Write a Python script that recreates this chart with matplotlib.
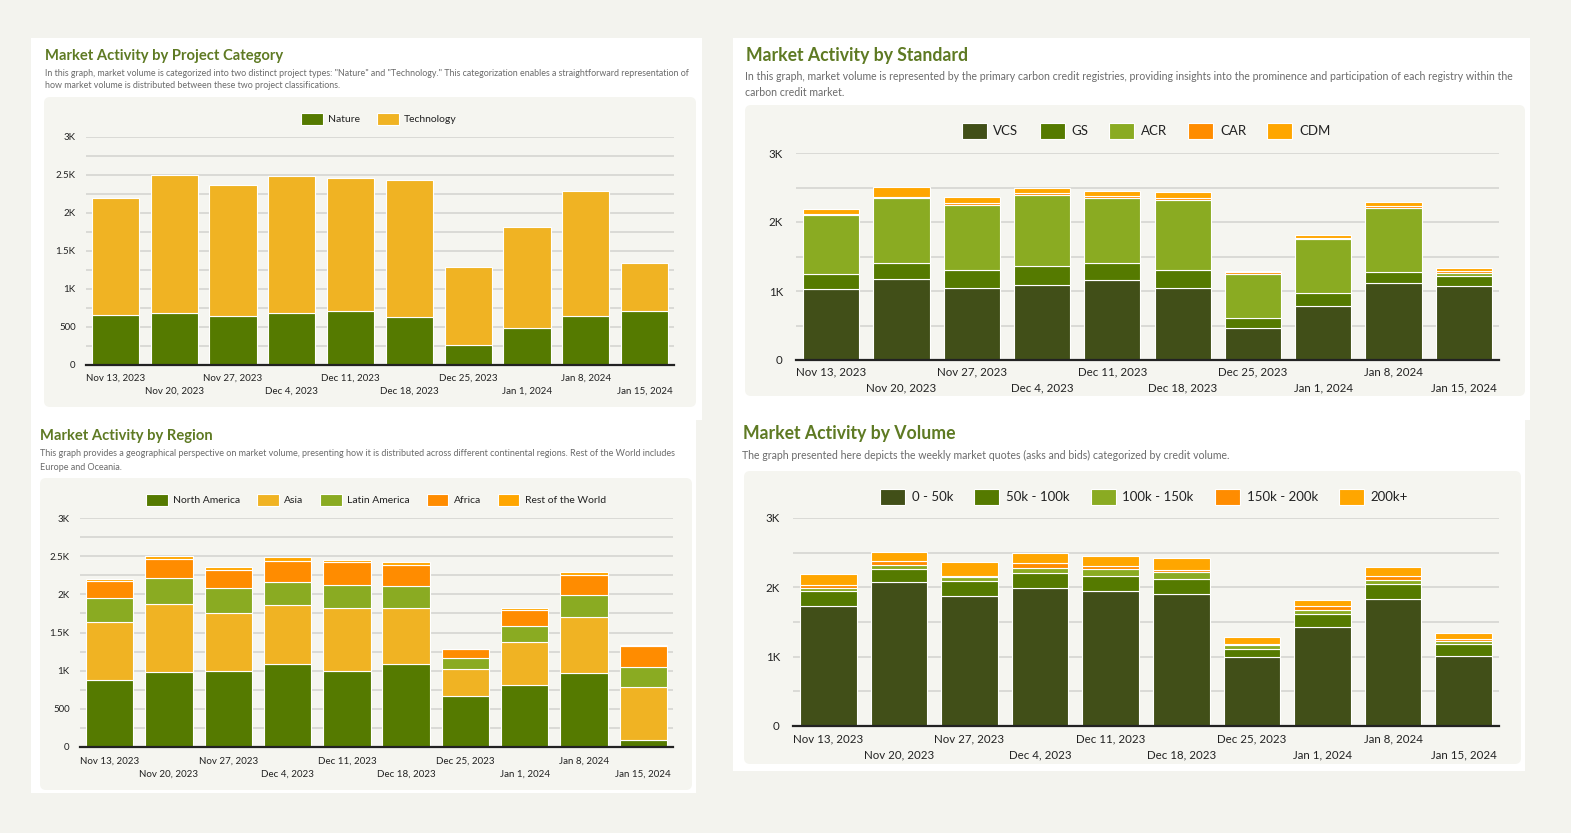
import matplotlib
matplotlib.use("Agg")
import matplotlib.pyplot as plt
from matplotlib.patches import FancyBboxPatch
from matplotlib.ticker import MultipleLocator
import numpy as np

plt.rcParams['font.family'] = ['Lato', 'DejaVu Sans']

W, H = 1571, 833

weeks = ["Nov 13, 2023", "Nov 20, 2023", "Nov 27, 2023", "Dec 4, 2023", "Dec 11, 2023",
         "Dec 18, 2023", "Dec 25, 2023", "Jan 1, 2024", "Jan 8, 2024", "Jan 15, 2024"]

# Panel 1: project category
nature = [660, 686, 651, 678, 713, 638, 262, 490, 647, 713]
technology = [1535, 1819, 1711, 1812, 1742, 1790, 1026, 1328, 1641, 627]

# Panel 2: standard
vcs = [1026, 1180, 1045, 1093, 1160, 1045, 467, 785, 1112, 1074]
gs = [226, 231, 255, 274, 251, 255, 135, 188, 169, 139]
acr = [847, 934, 948, 1031, 943, 1021, 645, 775, 924, 53]
car = [20, 20, 25, 25, 20, 30, 30, 25, 25, 20]
cdm = [76, 140, 89, 67, 81, 77, 11, 45, 58, 54]

# Panel 3: region
north_america = [883, 987, 1000, 1083, 1000, 1083, 674, 817, 970, 96]
asia = [752, 891, 761, 778, 826, 743, 343, 553, 739, 687]
latin_america = [317, 335, 326, 300, 296, 283, 144, 221, 282, 260]
africa = [226, 252, 235, 278, 304, 278, 119, 209, 261, 274]
rest_of_world = [17, 40, 40, 51, 29, 41, 8, 18, 36, 23]

# Panel 4: volume
vol_0_50 = [1733, 2074, 1872, 1987, 1944, 1911, 989, 1426, 1829, 1013]
vol_50_100 = [211, 197, 221, 221, 226, 211, 120, 192, 216, 168]
vol_100_150 = [48, 57, 57, 77, 101, 105, 62, 62, 58, 38]
vol_150_200 = [40, 45, 15, 60, 35, 30, 10, 50, 55, 40]
vol_200_plus = [163, 132, 197, 145, 149, 171, 107, 88, 130, 81]

C_DARK = "#414f18"
C_NAT = "#557a00"
C_LIGHT = "#8aab22"
C_GOLD = "#f0b323"
C_DORANGE = "#ff8c00"
C_ORANGE = "#ffa600"

BG = "#f3f3ee"
INNER = "#f5f5f0"
TITLE_C = "#5e7a23"
DESC_C = "#6b6b6b"

fig = plt.figure(figsize=(W / 100, H / 100), dpi=100)
fig.patch.set_facecolor(BG)


def rect_px(x0, y0, x1, y1, color, rounding=0.0, z=-5):
    p = FancyBboxPatch((x0 / 100, (H - y1) / 100), (x1 - x0) / 100, (y1 - y0) / 100,
                       boxstyle=f"round,pad=0,rounding_size={rounding}",
                       transform=fig.dpi_scale_trans, facecolor=color, edgecolor="none",
                       zorder=z)
    fig.patches.append(p)


def txt(x, y, s, **kw):
    fig.text(x / W, 1 - y / H, s, **kw)


def fmt(v):
    if v == 0:
        return "0"
    if v >= 1000:
        return f"{v / 1000:g}K"
    return f"{v:g}"


def panel(card, inner, plot, title, title_xy, title_fs, desc, desc_xy, desc_fs, desc_ls,
          series, labels, colors, legend_xy, legend_fs, tick_fs, major, minor, xpad,
          row_gap, ypad, handle_len):
    rect_px(*card, "white", z=-6)
    rect_px(*inner, INNER, rounding=0.06, z=-5)
    txt(title_xy[0], title_xy[1], title, fontsize=title_fs, fontweight="bold",
        color=TITLE_C, va="center", ha="left")
    for i, line in enumerate(desc):
        txt(desc_xy[0], desc_xy[1] + i * desc_ls, line, fontsize=desc_fs, color=DESC_C,
            va="center", ha="left")
    x0, y0, x1, y1 = plot
    ax = fig.add_axes([x0 / W, 1 - y1 / H, (x1 - x0) / W, (y1 - y0) / H])
    ax.set_facecolor("none")
    x = np.arange(len(weeks))
    bottom = np.zeros(len(weeks))
    handles = []
    for vals, lab, col in zip(series, labels, colors):
        b = ax.bar(x, vals, width=0.8, bottom=bottom, color=col, edgecolor="white",
                   linewidth=0.8, label=lab, zorder=3)
        handles.append(b)
        bottom += np.array(vals)
    ax.set_xlim(-0.5, len(weeks) - 0.5)
    ax.set_ylim(0, 3000)
    ax.yaxis.set_minor_locator(MultipleLocator(minor))
    ticks = np.arange(0, 3001, major)
    ax.set_yticks(ticks)
    ax.set_yticklabels([fmt(t) for t in ticks], fontsize=tick_fs, color="#222222")
    ax.grid(axis="y", which="both", color="#d8d8d4", linewidth=1.3, zorder=0)
    ax.set_axisbelow(True)
    for s in ["top", "right", "left"]:
        ax.spines[s].set_visible(False)
    ax.spines["bottom"].set_color("#222222")
    ax.spines["bottom"].set_linewidth(1.6)
    ax.spines["bottom"].set_zorder(5)
    ax.tick_params(axis="y", which="both", length=0, pad=ypad)
    ax.set_xticks(x)
    ax.set_xticklabels(weeks, fontsize=tick_fs, color="#222222")
    ax.tick_params(axis="x", length=0)
    for i, t in enumerate(ax.xaxis.get_major_ticks()):
        t.set_pad(xpad if i % 2 == 0 else xpad + row_gap)
    leg = fig.legend(handles=handles, labels=labels, loc="center",
                     bbox_to_anchor=(legend_xy[0] / W, 1 - legend_xy[1] / H),
                     ncol=len(labels), frameon=False, fontsize=legend_fs,
                     handlelength=handle_len, handleheight=1.5, handletextpad=0.5,
                     columnspacing=1.6)
    for t in leg.get_texts():
        t.set_color("#222222")
    return ax


panel(card=(31, 38, 702, 420), inner=(44, 97, 696, 407), plot=(86, 137, 674, 365),
      title="Market Activity by Project Category", title_xy=(45, 56), title_fs=10.6,
      desc=["In this graph, market volume is categorized into two distinct project types: \"Nature\" and \"Technology.\" This categorization enables a straightforward representation of",
            "how market volume is distributed between these two project classifications."],
      desc_xy=(45, 73), desc_fs=6.38, desc_ls=13,
      series=[nature, technology], labels=["Nature", "Technology"], colors=[C_NAT, C_GOLD],
      legend_xy=(379, 119), legend_fs=7.5, tick_fs=7, major=500, minor=250, xpad=6.6,
      row_gap=9, ypad=7.5, handle_len=2.1)

panel(card=(733, 38, 1530, 420), inner=(745, 105, 1525, 396), plot=(796, 153, 1499, 360),
      title="Market Activity by Standard", title_xy=(746, 56), title_fs=12.7,
      desc=["In this graph, market volume is represented by the primary carbon credit registries, providing insights into the prominence and participation of each registry within the",
            "carbon credit market."],
      desc_xy=(745, 76), desc_fs=7.6, desc_ls=16,
      series=[vcs, gs, acr, car, cdm], labels=["VCS", "GS", "ACR", "CAR", "CDM"],
      colors=[C_DARK, C_NAT, C_LIGHT, C_DORANGE, C_ORANGE],
      legend_xy=(1146, 131), legend_fs=9.5, tick_fs=8.3, major=1000, minor=500, xpad=4.5,
      row_gap=11.5, ypad=9.5, handle_len=1.9)

panel(card=(31, 420, 696, 793), inner=(40, 478, 692, 790), plot=(80, 518, 673, 747),
      title="Market Activity by Region", title_xy=(40, 436), title_fs=10.6,
      desc=["This graph provides a geographical perspective on market volume, presenting how it is distributed across different continental regions. Rest of the World includes",
            "Europe and Oceania."],
      desc_xy=(40, 454), desc_fs=6.5, desc_ls=14,
      series=[north_america, asia, latin_america, africa, rest_of_world],
      labels=["North America", "Asia", "Latin America", "Africa", "Rest of the World"],
      colors=[C_NAT, C_GOLD, C_LIGHT, C_DORANGE, C_ORANGE],
      legend_xy=(376, 500), legend_fs=7.5, tick_fs=7, major=500, minor=250, xpad=7.3,
      row_gap=9, ypad=7.5, handle_len=2.1)

panel(card=(733, 420, 1525, 771), inner=(744, 471, 1521, 764), plot=(793, 518, 1499, 726),
      title="Market Activity by Volume", title_xy=(743, 433), title_fs=12.7,
      desc=["The graph presented here depicts the weekly market quotes (asks and bids) categorized by credit volume."],
      desc_xy=(742, 455), desc_fs=7.6, desc_ls=16,
      series=[vol_0_50, vol_50_100, vol_100_150, vol_150_200, vol_200_plus],
      labels=["0 - 50k", "50k - 100k", "100k - 150k", "150k - 200k", "200k+"],
      colors=[C_DARK, C_NAT, C_LIGHT, C_DORANGE, C_ORANGE],
      legend_xy=(1144, 497), legend_fs=9.5, tick_fs=8.3, major=1000, minor=500, xpad=5.2,
      row_gap=11.5, ypad=9.5, handle_len=1.9)

fig.savefig("out.png", dpi=100, facecolor=BG)
